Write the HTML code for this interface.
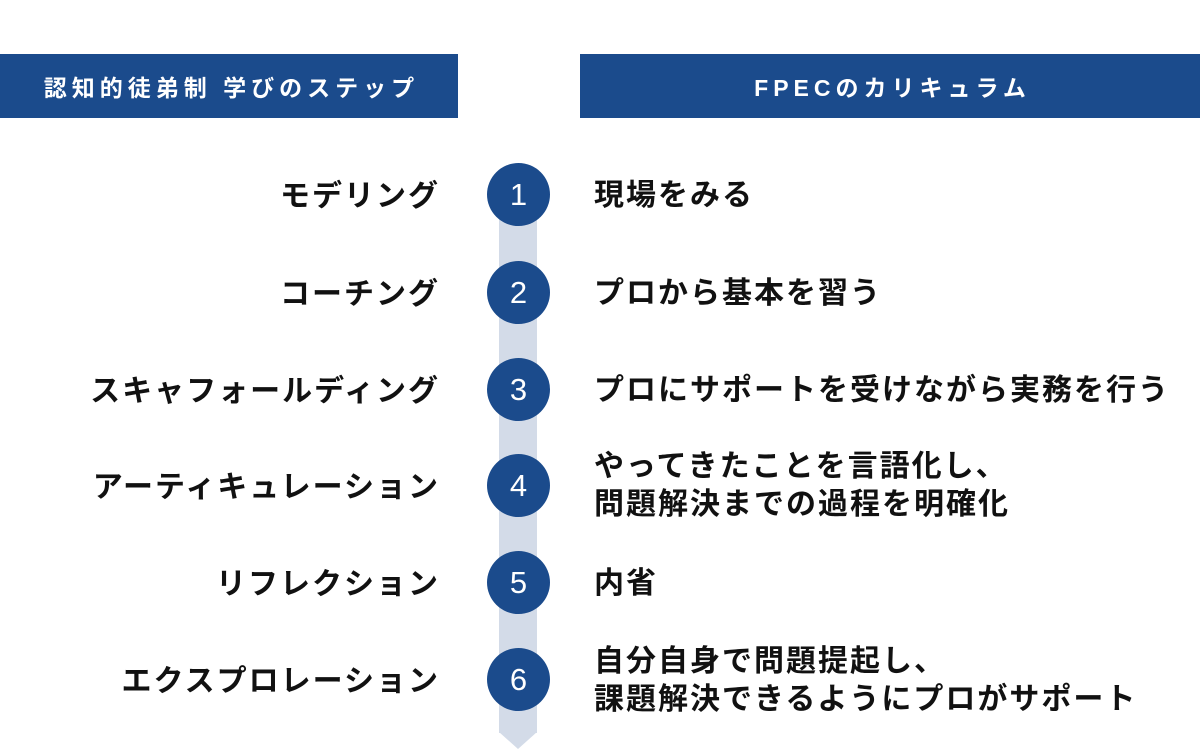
<!DOCTYPE html>
<html><head><meta charset="utf-8"><style>
body{margin:0;width:1200px;height:749px;background:#fff;position:relative;overflow:hidden;font-family:"Liberation Sans","Noto Sans CJK JP",sans-serif;}
.hd{position:absolute;top:54px;height:64px;background:#1b4b8c;color:#fff;font-weight:bold;font-size:23px;display:flex;align-items:center;justify-content:center}
.band{position:absolute;left:499px;top:210px;width:38px;height:523px;background:#d3dbe8}
.arrow{position:absolute;left:499px;top:732px;width:0;height:0;border-left:19px solid transparent;border-right:19px solid transparent;border-top:17px solid #d3dbe8}
.c{position:absolute;left:487px;width:63px;height:63px;border-radius:50%;background:#1b4b8c;color:#fff;font-size:31px;font-weight:normal;display:flex;align-items:center;justify-content:center}
.l{position:absolute;right:760px;font-size:30px;font-weight:bold;color:#111;white-space:nowrap;line-height:38px;letter-spacing:2px}
.r{position:absolute;left:594px;font-size:30px;font-weight:bold;color:#111;white-space:nowrap;line-height:38px;letter-spacing:2px}
</style></head><body>
<div class="hd" style="left:0;width:458px;letter-spacing:5px;padding-left:5px;box-sizing:border-box">認知的徒弟制 学びのステップ</div>
<div class="hd" style="left:580px;width:620px;letter-spacing:5px;padding-left:5px;box-sizing:border-box">FPECのカリキュラム</div>
<div class="band"></div><div class="arrow"></div>
<div class="c" style="top:163px">1</div>
<div class="c" style="top:261px">2</div>
<div class="c" style="top:358px">3</div>
<div class="c" style="top:454px">4</div>
<div class="c" style="top:551px">5</div>
<div class="c" style="top:648px">6</div>
<div class="l" style="top:178px">モデリング</div>
<div class="l" style="top:276px">コーチング</div>
<div class="l" style="top:373px">スキャフォールディング</div>
<div class="l" style="top:469px">アーティキュレーション</div>
<div class="l" style="top:566px">リフレクション</div>
<div class="l" style="top:663px">エクスプロレーション</div>
<div class="r" style="top:177px">現場をみる</div>
<div class="r" style="top:275px">プロから基本を習う</div>
<div class="r" style="top:372px">プロにサポートを受けながら実務を行う</div>
<div class="r" style="top:448px">やってきたことを言語化し、<br>問題解決までの過程を明確化</div>
<div class="r" style="top:565px">内省</div>
<div class="r" style="top:643px">自分自身で問題提起し、<br>課題解決できるようにプロがサポート</div>
</body></html>
